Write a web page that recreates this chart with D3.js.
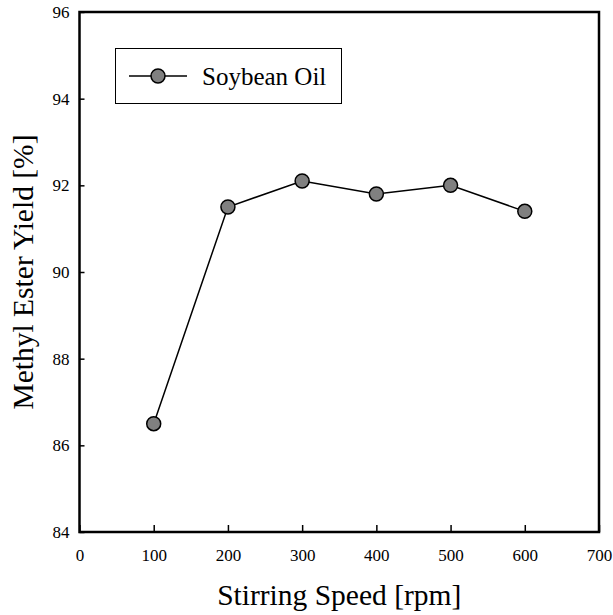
<!DOCTYPE html>
<meta charset="utf-8">
<style>
body { margin: 0; background: #fff; }
text { font-family: "Liberation Serif", "Times New Roman", serif; fill: #000; }
.axis text { font-family: "Liberation Serif", "Times New Roman", serif; font-size: 17px; fill: #000; }
.frame { fill: none; stroke: #000; stroke-width: 2.5; }
.series-line { fill: none; stroke: #000; stroke-width: 1.5; }
.dot { fill: #808080; stroke: #000; stroke-width: 1.5; }
.legend-box { fill: #fff; stroke: #000; stroke-width: 1; }
</style>
<svg width="613" height="615"></svg>
<script src="https://d3js.org/d3.v7.min.js"></script>
<script>

// stirring speed [rpm] vs methyl ester yield [%]
var speeds = [100, 200, 300, 400, 500, 600];
var yields = [86.5, 91.5, 92.1, 91.8, 92.0, 91.4];
var xTicks = [0, 100, 200, 300, 400, 500, 600, 700];
var yTicks = [84, 86, 88, 90, 92, 94, 96];
var seriesName = "Soybean Oil";

var svg = d3.select("svg"),
    plotLeft = 79.5, plotRight = 599, plotTop = 12, plotBottom = 532;

var x = d3.scaleLinear().domain([0, 700]).range([plotLeft, plotRight]);
var y = d3.scaleLinear().domain([84, 96]).range([plotBottom, plotTop]);

var data = speeds.map(function(s, i) { return {s: s, v: yields[i]}; });

function styleAxis(g) {
  g.attr("font-family", null).attr("font-size", null);
  g.select(".domain").remove();
  g.selectAll(".tick line").attr("stroke-width", 1.5);
  g.selectAll(".tick text")
      .attr("font-family", "Liberation Serif")
      .attr("font-size", 17)
      .attr("fill", "#000");
}

// ticks (inward)
svg.append("g")
    .attr("class", "axis")
    .attr("transform", "translate(0," + plotBottom + ")")
    .call(d3.axisBottom(x).tickValues(xTicks).tickSizeInner(-7).tickSizeOuter(0).tickPadding(17))
    .call(styleAxis);

svg.append("g")
    .attr("class", "axis")
    .attr("transform", "translate(" + plotLeft + ",0)")
    .call(d3.axisLeft(y).tickValues(yTicks).tickSizeInner(-5).tickSizeOuter(0).tickPadding(10))
    .call(styleAxis);

svg.append("rect")
    .attr("class", "frame")
    .attr("x", plotLeft).attr("y", plotTop)
    .attr("width", plotRight - plotLeft).attr("height", plotBottom - plotTop);

var line = d3.line()
    .x(function(d) { return x(d.s); })
    .y(function(d) { return y(d.v); });

svg.append("path")
    .datum(data)
    .attr("class", "series-line")
    .attr("d", line);

svg.selectAll(".dot")
  .data(data)
  .enter().append("circle")
    .attr("class", "dot")
    .attr("cx", function(d) { return x(d.s); })
    .attr("cy", function(d) { return y(d.v); })
    .attr("r", 7);

// legend
var legend = svg.append("g");
legend.append("rect")
    .attr("class", "legend-box")
    .attr("x", 115.5).attr("y", 48.5)
    .attr("width", 226).attr("height", 55);
legend.append("line")
    .attr("x1", 129).attr("x2", 187).attr("y1", 76).attr("y2", 76)
    .attr("stroke", "#000").attr("stroke-width", 1.5);
legend.append("circle")
    .attr("class", "dot")
    .attr("cx", 158).attr("cy", 76).attr("r", 7);
legend.append("text")
    .attr("x", 202).attr("y", 85)
    .style("font-size", "25px")
    .text(seriesName);

// axis titles
svg.append("text")
    .attr("x", (plotLeft + plotRight) / 2)
    .attr("y", 605)
    .attr("text-anchor", "middle")
    .style("font-size", "29.5px")
    .text("Stirring Speed [rpm]");

svg.append("text")
    .attr("transform", "translate(33," + (plotTop + plotBottom) / 2 + ") rotate(-90)")
    .attr("text-anchor", "middle")
    .style("font-size", "29.5px")
    .text("Methyl Ester Yield [%]");

</script>
